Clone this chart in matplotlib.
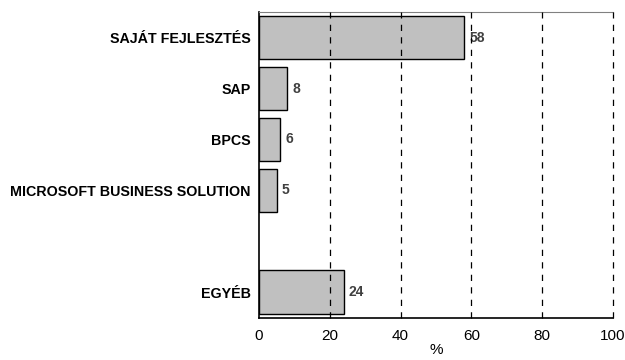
import numpy as np
import matplotlib.pyplot as plt

# categories top -> bottom ('' is the empty slot in the original)
categories = ['SAJÁT FEJLESZTÉS', 'SAP', 'BPCS', 'MICROSOFT BUSINESS SOLUTION', '', 'EGYÉB']
values = [58, 8, 6, 5, None, 24]
xticks = [0, 20, 40, 60, 80, 100]

plt.rcParams['font.family'] = ['Liberation Sans', 'DejaVu Sans']

fig = plt.figure(figsize=(6.25, 3.6), dpi=100)
ax = fig.add_axes([0.4144, 0.118, 0.5664, 0.848])

y = np.arange(len(categories))
for yi, v in zip(y, values):
    if v is None:
        continue
    ax.barh(yi, v, height=0.85, color='#c0c0c0', edgecolor='black', linewidth=1, zorder=2)
    ax.text(v + 1.4, yi, str(v), va='center', ha='left', fontsize=10,
            fontweight='bold', color='#404040', zorder=1)

ax.set_ylim(len(categories) - 0.5, -0.5)
ax.set_xlim(0, 100)
ax.set_yticks(y)
ax.set_yticklabels(categories, fontsize=10.3, fontweight='bold')
ax.set_xticks(xticks)
ax.set_xticklabels([str(t) for t in xticks], fontsize=11)
ax.tick_params(axis='both', length=0)
ax.tick_params(axis='y', pad=6)
ax.tick_params(axis='x', pad=8)

# dashed vertical grid
for t in xticks[1:]:
    ax.axvline(t, color='black', linewidth=0.9, linestyle=(0, (5, 5)), zorder=3, clip_on=False)

ax.spines['right'].set_visible(False)
ax.spines['top'].set_color('#808080')
ax.spines['left'].set_linewidth(1.2)
ax.spines['bottom'].set_linewidth(1.2)

ax.set_xlabel('%', fontsize=11, labelpad=0)

fig.savefig('out.png', dpi=100)
